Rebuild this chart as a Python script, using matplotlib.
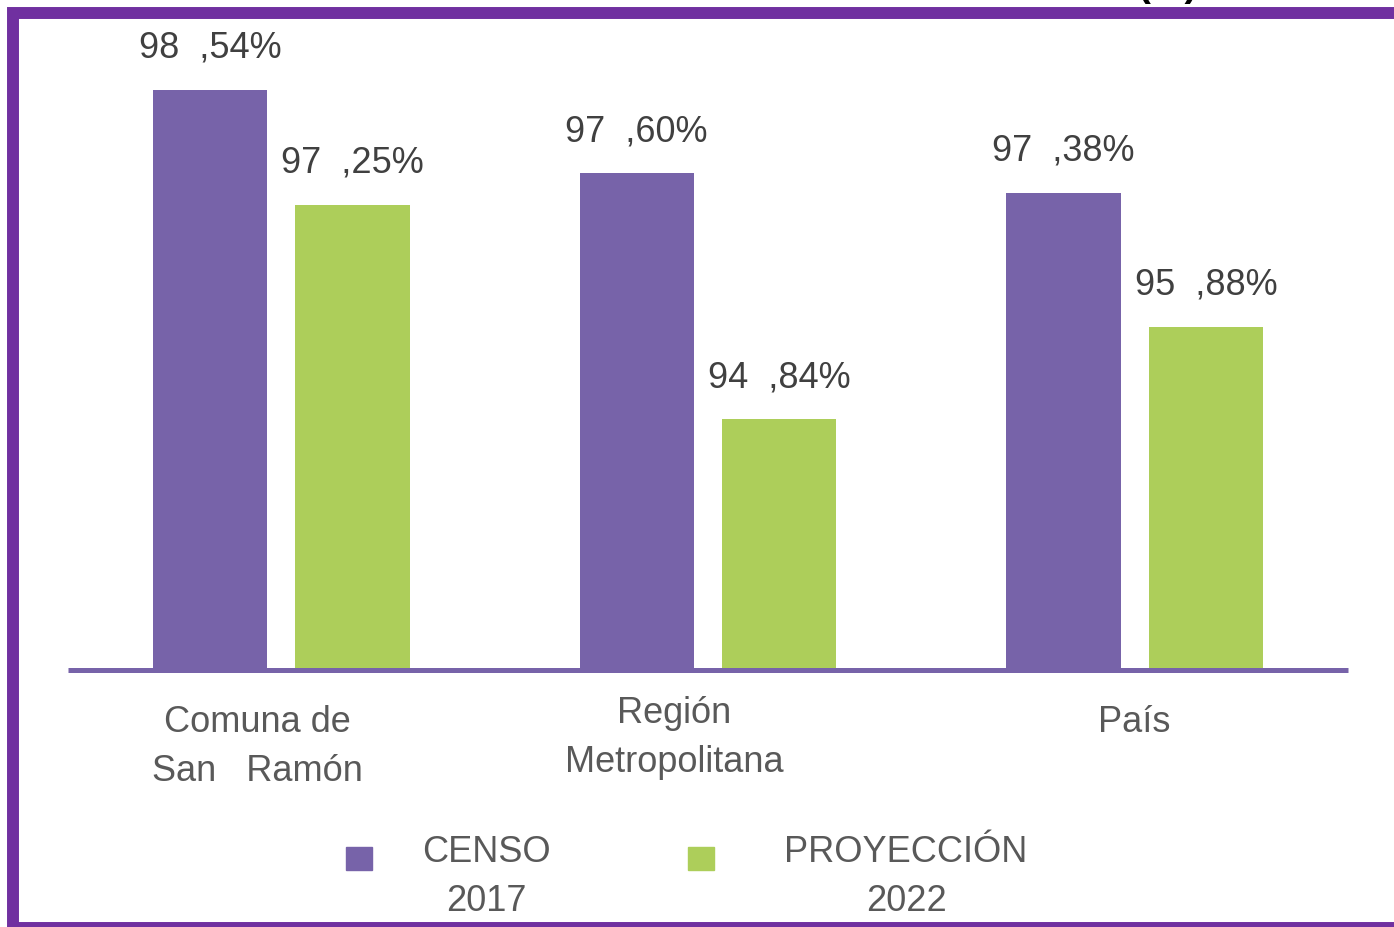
import matplotlib.pyplot as plt
from matplotlib.patches import Rectangle
import numpy as np

plt.rcParams['font.family'] = ['Liberation Sans', 'DejaVu Sans']

# datos
categorias = ["Comuna de\nSan   Ramón", "Región\nMetropolitana", "País"]
censo_2017 = [98.54, 97.60, 97.38]
proyeccion_2022 = [97.25, 94.84, 95.88]
series_names = ["CENSO\n2017", "PROYECCIÓN\n2022"]

PURPLE = "#7763A9"
GREEN = "#ADCE5A"
FRAME = "#7030A0"
DARK = "#404040"
GRAY = "#595959"


def fmt(v):
    s = f"{v:.2f}".split(".")
    return f"{s[0]}  ,{s[1]}%"


W, H = 1394, 927
fig = plt.figure(figsize=(W / 100, H / 100), dpi=100)
ax = fig.add_axes([68 / W, 1 - 670 / H, 1280 / W, 650 / H])

x = np.arange(len(categorias))
bw = 0.268
off = 0.167
b1 = ax.bar(x - off, censo_2017, bw, color=PURPLE, zorder=2)
b2 = ax.bar(x + off, proyeccion_2022, bw, color=GREEN, zorder=2)

for bars, vals in ((b1, censo_2017), (b2, proyeccion_2022)):
    for rect, v in zip(bars, vals):
        ax.annotate(fmt(v), (rect.get_x() + rect.get_width() / 2, v),
                    xytext=(0, 30), textcoords="offset points",
                    ha="center", va="center", fontsize=26, color=DARK)

ax.set_xlim(-0.5, 2.5)
ax.set_ylim(92.03, 99.32)
for s in ("top", "left", "right"):
    ax.spines[s].set_visible(False)
ax.spines["bottom"].set_color(PURPLE)
ax.spines["bottom"].set_linewidth(3.6)
ax.spines["bottom"].set_capstyle("butt")
ax.spines["bottom"].set_zorder(3)
ax.set_xticks([])
ax.set_yticks([])

# etiquetas de categorias (centradas a mano como en el original)
label_x = [257, 674, 1134]
label_y = [747, 738, 722]
for lab, lx, ly in zip(categorias, label_x, label_y):
    fig.text(lx / W, 1 - ly / H, lab, ha="center", va="center",
             multialignment="center", fontsize=26, color=GRAY, linespacing=1.5)

# leyenda manual
leg_sq = [346, 688]
leg_tx = [486, 906]
for name, col, sx, tx in zip(series_names, [PURPLE, GREEN], leg_sq, leg_tx):
    fig.add_artist(Rectangle((sx / W, 1 - 870 / H), 26 / W, 23 / H,
                             transform=fig.transFigure, color=col))
    fig.text(tx / W, 1 - 877 / H, name, ha="center", va="center",
             multialignment="center", fontsize=26, color=GRAY, linespacing=1.5)

# titulo cortado arriba
fig.text(1167 / W, 1 + 4 / H, "(%)", ha="center", va="baseline",
         fontsize=28, fontweight="bold", color="black")

# marco morado
fig.add_artist(Rectangle((13 / W, -1 / H), 1384 / W, (928 - 13) / H,
                         transform=fig.transFigure, fill=False,
                         edgecolor=FRAME, linewidth=8.6))

fig.savefig("out.png", dpi=100)
